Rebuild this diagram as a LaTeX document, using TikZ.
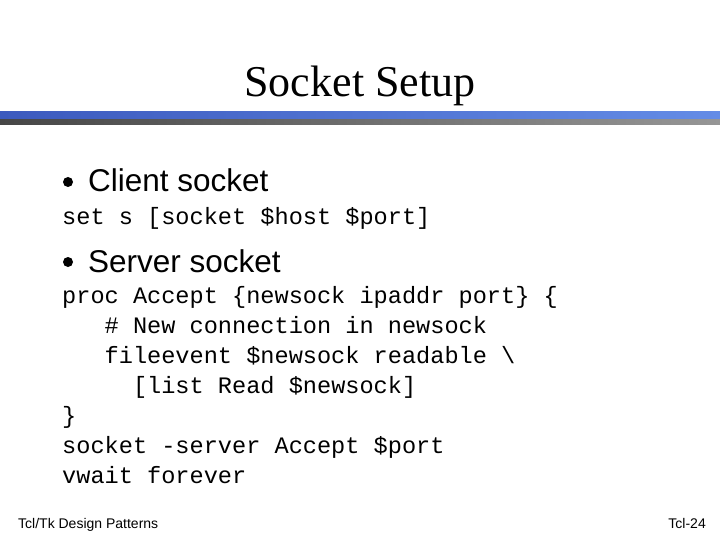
\documentclass[tikz,border=0pt]{standalone}
\usepackage{fontspec}
\setmainfont{Liberation Serif}
\setsansfont{Liberation Sans}
\setmonofont{Liberation Mono}
\definecolor{barL}{RGB}{60,90,190}
\definecolor{barR}{RGB}{100,140,230}
\definecolor{grL}{RGB}{70,70,70}
\definecolor{grR}{RGB}{150,150,150}
\begin{document}
\begin{tikzpicture}[x=1pt,y=-1pt,
  code/.style={anchor=base west,inner sep=0,font=\fontsize{23.6}{28}\ttfamily},
  head/.style={anchor=base west,inner sep=0,font=\fontsize{31.5}{34}\sffamily},
  foot/.style={inner sep=0,font=\fontsize{14}{16}\sffamily}]
\useasboundingbox (0,0) rectangle (720,540);
\fill[white] (0,0) rectangle (720,540);
\node[inner sep=0,anchor=base,font=\fontsize{44}{48}\selectfont] (title) at (360,97) {Socket Setup};
\shade[left color=barL, right color=barR] (0,112) rectangle (720,119);
\shade[left color=grL, right color=grR] (0,120) rectangle (720,124.5);
\fill (68,182) circle (5) node (b1) {};
\node[head] (h1) at (88,192) {Client socket};
\node[code] (c1) at (62,225) {set s [socket \$host \$port]};
\fill (68,262) circle (5) node (b2) {};
\node[head] (h2) at (88,272) {Server socket};
\node[code] (c2) at (62,303) {proc Accept \{newsock ipaddr port\} \{};
\node[code] (c3) at (62,333) {\ \ \ \# New connection in newsock};
\node[code] (c4) at (62,363) {\ \ \ fileevent \$newsock readable \textbackslash};
\node[code] (c5) at (62,393) {\ \ \ \ \ [list Read \$newsock]};
\node[code] (c6) at (62,423) {\}};
\node[code] (c7) at (62,453) {socket -server Accept \$port};
\node[code] (c8) at (62,483) {vwait forever};
\node[foot,anchor=base west] (f1) at (18,528) {Tcl/Tk Design Patterns};
\node[foot,anchor=base east] (f2) at (706,528) {Tcl-24};
\end{tikzpicture}
\end{document}
